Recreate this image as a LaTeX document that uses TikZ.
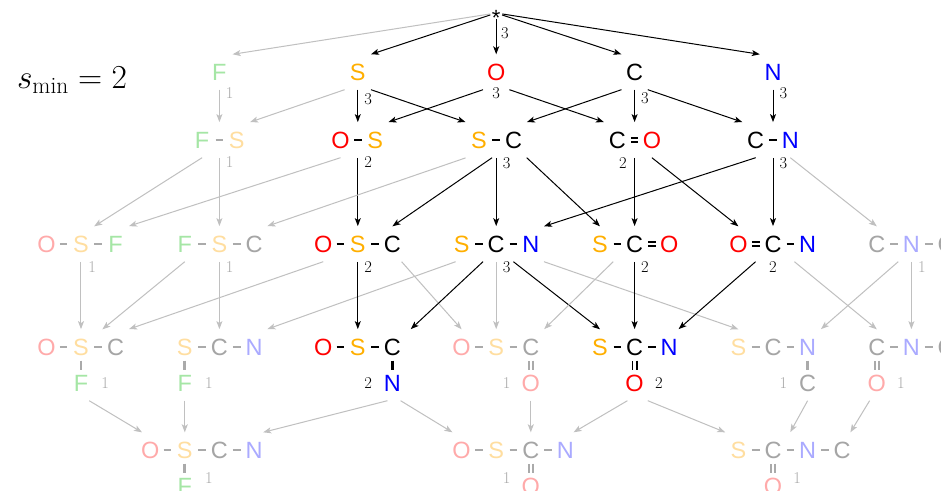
\RequirePackage{fix-cm}
\documentclass[tikz,border=0pt]{standalone}
\usepackage{fontspec}
\newfontfamily\af{Liberation Sans}
\usetikzlibrary{fit,arrows.meta}
\definecolor{cO}{RGB}{255,0,0}
\definecolor{cS}{RGB}{255,175,0}
\definecolor{cN}{RGB}{0,0,255}
\definecolor{fO}{RGB}{255,170,170}
\definecolor{fS}{RGB}{255,222,160}
\definecolor{fN}{RGB}{170,170,255}
\definecolor{fC}{RGB}{165,165,165}
\definecolor{fF}{RGB}{165,230,165}
\definecolor{bG}{RGB}{170,170,170}
\definecolor{eG}{RGB}{192,192,192}
\tikzset{
  atom/.style={inner sep=0pt, minimum width=26pt, minimum height=35pt,
    text height=16.5pt, text depth=0pt, font=\af\fontsize{23.5}{23.5}\selectfont},
  sbond/.style={line width=2.7pt, shorten <=13.5pt, shorten >=13.5pt},
  dbond/.style={line width=1.8pt, double=white, double distance=2.6pt,
    shorten <=13.5pt, shorten >=13.5pt},
  lbl/.style={inner sep=0pt, font=\fontsize{16.5}{16.5}\selectfont},
  mol/.style={inner sep=0pt},
  ea/.style={draw=black, line width=1pt, -{Stealth[length=8pt,width=6pt,inset=2pt]}},
  eg/.style={draw=eG, line width=1pt, -{Stealth[length=8pt,width=6pt,inset=2pt]}},
}
\newcommand\At[4]{\node[atom,text=#4] (#1) at (#2) {#3};}
\newcommand\Sb[3]{\draw[sbond,draw=#1] (#2.center) -- (#3.center);}
\newcommand\Db[3]{\draw[dbond,draw=#1] (#2.center) -- (#3.center);}
\newcommand\Lb[4]{\node[lbl,text=#4] (#1) at (#2) {#3};}
\begin{document}
\begin{tikzpicture}[x=34.6pt, y=-1pt]
\useasboundingbox[fill=white] (-2.341,0) rectangle (24.8555,490);

\node[anchor=base] (smin) at (-0.26,88) {\fontsize{33.5}{36}\selectfont$s_{\min}=2$};

% row 0
\node[circle,inner sep=0pt,minimum size=12pt,text height=0pt,text depth=0pt] (star) at (12,13) {\af\fontsize{22}{22}\selectfont\raisebox{-12.4pt}{*}};
\Lb{l0}{12.25,33}{3}{black}

% row 1
\At{F1}{4,72}{F}{fF}
\At{S1}{8,72}{S}{cS}
\At{O1}{12,72}{O}{cO}
\At{C1}{16,72}{C}{black}
\At{N1}{20,72}{N}{cN}
\Lb{lF1}{4.3,93}{1}{bG}
\Lb{lS1}{8.3,99}{3}{black}
\Lb{lO1}{12,93}{3}{black}
\Lb{lC1}{16.3,98}{3}{black}
\Lb{lN1}{20.3,93}{3}{black}

% row 2
\At{a2F}{3.5,140}{F}{fF}\At{a2S}{4.5,140}{S}{fS}\Sb{bG}{a2F}{a2S}
\node[mol,fit=(a2F)(a2S)] (mFS) {};
\At{b2O}{7.5,140}{O}{cO}\At{b2S}{8.5,140}{S}{cS}\Sb{black}{b2O}{b2S}
\node[mol,fit=(b2O)(b2S)] (mOS) {};
\At{c2S}{11.5,140}{S}{cS}\At{c2C}{12.5,140}{C}{black}\Sb{black}{c2S}{c2C}
\node[mol,fit=(c2S)(c2C)] (mSC) {};
\At{d2C}{15.5,140}{C}{black}\At{d2O}{16.5,140}{O}{cO}\Db{black}{d2C}{d2O}
\node[mol,fit=(d2C)(d2O)] (mCO) {};
\At{e2C}{19.5,140}{C}{black}\At{e2N}{20.5,140}{N}{cN}\Sb{black}{e2C}{e2N}
\node[mol,fit=(e2C)(e2N)] (mCN) {};
\Lb{lFS}{4.3,162}{1}{bG}
\Lb{lOS}{8.3,162}{2}{black}
\Lb{lSC}{12.3,163}{3}{black}
\Lb{lCO}{15.66,163}{2}{black}
\Lb{lCN}{20.3,163}{3}{black}

% row 3
\At{a3O}{-1,244}{O}{fO}\At{a3S}{0,244}{S}{fS}\At{a3F}{1,244}{F}{fF}
\Sb{bG}{a3O}{a3S}\Sb{bG}{a3S}{a3F}
\node[mol,fit=(a3O)(a3F)] (mOSF) {};
\At{b3F}{3,244}{F}{fF}\At{b3S}{4,244}{S}{fS}\At{b3C}{5,244}{C}{fC}
\Sb{bG}{b3F}{b3S}\Sb{bG}{b3S}{b3C}
\node[mol,fit=(b3F)(b3C)] (mFSC) {};
\At{c3O}{7,244}{O}{cO}\At{c3S}{8,244}{S}{cS}\At{c3C}{9,244}{C}{black}
\Sb{black}{c3O}{c3S}\Sb{black}{c3S}{c3C}
\node[mol,fit=(c3O)(c3C)] (mOSC) {};
\At{d3S}{11,244}{S}{cS}\At{d3C}{12,244}{C}{black}\At{d3N}{13,244}{N}{cN}
\Sb{black}{d3S}{d3C}\Sb{black}{d3C}{d3N}
\node[mol,fit=(d3S)(d3N)] (mSCN) {};
\At{e3S}{15,244}{S}{cS}\At{e3C}{16,244}{C}{black}\At{e3O}{17,244}{O}{cO}
\Sb{black}{e3S}{e3C}\Db{black}{e3C}{e3O}
\node[mol,fit=(e3S)(e3O)] (mSCO) {};
\At{f3O}{19,244}{O}{cO}\At{f3C}{20,244}{C}{black}\At{f3N}{21,244}{N}{cN}
\Db{black}{f3O}{f3C}\Sb{black}{f3C}{f3N}
\node[mol,fit=(f3O)(f3N)] (mOCN) {};
\At{g3C}{23,244}{C}{fC}\At{g3N}{24,244}{N}{fN}\At{g3C2}{25,244}{C}{fC}
\Sb{bG}{g3C}{g3N}\Sb{bG}{g3N}{g3C2}
\node[mol,fit=(g3C)(g3C2)] (mCNC) {};
\Lb{lOSF}{0.32,267}{1}{bG}
\Lb{lFSC}{4.3,267}{1}{bG}
\Lb{lOSC}{8.3,267}{2}{black}
\Lb{lSCN}{12.3,267}{3}{black}
\Lb{lSCO}{16.3,267}{2}{black}
\Lb{lOCN}{20,267}{2}{black}
\Lb{lCNC}{24.3,267}{1}{bG}

% row 4
\At{a4O}{-1,347}{O}{fO}\At{a4S}{0,347}{S}{fS}\At{a4C}{1,347}{C}{fC}\At{a4X}{0,383}{F}{fF}
\Sb{bG}{a4O}{a4S}\Sb{bG}{a4S}{a4C}\Sb{bG}{a4S}{a4X}
\node[mol,fit=(a4O)(a4C)] (m4a) {};
\At{b4S}{3,347}{S}{fS}\At{b4C}{4,347}{C}{fC}\At{b4N}{5,347}{N}{fN}\At{b4X}{3,383}{F}{fF}
\Sb{bG}{b4S}{b4C}\Sb{bG}{b4C}{b4N}\Sb{bG}{b4S}{b4X}
\node[mol,fit=(b4S)(b4N)] (m4b) {};
\At{c4O}{7,347}{O}{cO}\At{c4S}{8,347}{S}{cS}\At{c4C}{9,347}{C}{black}\At{c4X}{9,383}{N}{cN}
\Sb{black}{c4O}{c4S}\Sb{black}{c4S}{c4C}\Sb{black}{c4C}{c4X}
\node[mol,fit=(c4O)(c4C)] (m4c) {};
\At{d4O}{11,347}{O}{fO}\At{d4S}{12,347}{S}{fS}\At{d4C}{13,347}{C}{fC}\At{d4X}{13,383}{O}{fO}
\Sb{bG}{d4O}{d4S}\Sb{bG}{d4S}{d4C}\Db{bG}{d4C}{d4X}
\node[mol,fit=(d4O)(d4C)] (m4d) {};
\At{e4S}{15,347}{S}{cS}\At{e4C}{16,347}{C}{black}\At{e4N}{17,347}{N}{cN}\At{e4X}{16,383}{O}{cO}
\Sb{black}{e4S}{e4C}\Sb{black}{e4C}{e4N}\Db{black}{e4C}{e4X}
\node[mol,fit=(e4S)(e4N)] (m4e) {};
\At{f4S}{19,347}{S}{fS}\At{f4C}{20,347}{C}{fC}\At{f4N}{21,347}{N}{fN}\At{f4X}{21,383}{C}{fC}
\Sb{bG}{f4S}{f4C}\Sb{bG}{f4C}{f4N}\Sb{bG}{f4N}{f4X}
\node[mol,fit=(f4S)(f4N)] (m4f) {};
\At{g4C}{23,347}{C}{fC}\At{g4N}{24,347}{N}{fN}\At{g4C2}{25,347}{C}{fC}\At{g4X}{23,383}{O}{fO}
\Sb{bG}{g4C}{g4N}\Sb{bG}{g4N}{g4C2}\Db{bG}{g4C}{g4X}
\node[mol,fit=(g4C)(g4C2)] (m4g) {};
\Lb{la4}{0.7,383}{1}{bG}
\Lb{lb4}{3.7,383}{1}{bG}
\Lb{lc4}{8.3,383}{2}{black}
\Lb{ld4}{12.3,383}{1}{bG}
\Lb{le4}{16.7,383}{2}{black}
\Lb{lf4}{20.3,383}{1}{bG}
\Lb{lg4}{23.7,383}{1}{bG}

% row 5
\At{a5O}{2,450}{O}{fO}\At{a5S}{3,450}{S}{fS}\At{a5C}{4,450}{C}{fC}\At{a5N}{5,450}{N}{fN}\At{a5X}{3,486}{F}{fF}
\Sb{bG}{a5O}{a5S}\Sb{bG}{a5S}{a5C}\Sb{bG}{a5C}{a5N}\Sb{bG}{a5S}{a5X}
\node[mol,fit=(a5O)(a5N)] (m5a) {};
\At{b5O}{11,450}{O}{fO}\At{b5S}{12,450}{S}{fS}\At{b5C}{13,450}{C}{fC}\At{b5N}{14,450}{N}{fN}\At{b5X}{13,486}{O}{fO}
\Sb{bG}{b5O}{b5S}\Sb{bG}{b5S}{b5C}\Sb{bG}{b5C}{b5N}\Db{bG}{b5C}{b5X}
\node[mol,fit=(b5O)(b5N)] (m5b) {};
\At{c5S}{19,450}{S}{fS}\At{c5C}{20,450}{C}{fC}\At{c5N}{21,450}{N}{fN}\At{c5C2}{22,450}{C}{fC}\At{c5X}{20,486}{O}{fO}
\Sb{bG}{c5S}{c5C}\Sb{bG}{c5C}{c5N}\Sb{bG}{c5N}{c5C2}\Db{bG}{c5C}{c5X}
\node[mol,fit=(c5S)(c5C2)] (m5c) {};
\Lb{la5}{3.7,478}{1}{bG}
\Lb{lb5}{12.3,478}{1}{bG}
\Lb{lc5}{20.7,478}{1}{bG}

% edges row 0 -> 1
\draw[eg] (star) -- (F1.north east);
\draw[ea] (star) -- (S1.north east);
\draw[ea] (star) -- (O1.north);
\draw[ea] (star) -- (C1.north west);
\draw[ea] (star) -- (N1.north west);

% row 1 -> 2
\draw[eg] (F1.south) -- (mFS.north);
\draw[eg] (S1.south west) -- (mFS.north east);
\draw[ea] (S1.south) -- (mOS.north);
\draw[ea] (S1.south east) -- (mSC.north west);
\draw[ea] (O1.south west) -- (mOS.north east);
\draw[ea] (O1.south east) -- (mCO.north west);
\draw[ea] (C1.south west) -- (mSC.north east);
\draw[ea] (C1.south) -- (mCO.north);
\draw[ea] (C1.south east) -- (mCN.north west);
\draw[ea] (N1.south) -- (mCN.north);

% row 2 -> 3
\draw[eg] (a2F.south) -- (a3S.north east);
\draw[eg] (mFS.south) -- (mFSC.north);
\draw[eg] (b2O.south) -- (mOSF.north east);
\draw[ea] (mOS.south) -- (mOSC.north);
\draw[eg] (mSC.south west) -- (mFSC.north east);
\draw[ea] (c2S.south east) -- (c3C.north);
\draw[ea] (mSC.south) -- (mSCN.north);
\draw[ea] (c2C.south east) -- (e3S.north);
\draw[ea] (mCO.south) -- (mSCO.north);
\draw[ea] (d2O.south) -- (f3O.north);
\draw[ea] (e2C.south) -- (d3N.north east);
\draw[ea] (mCN.south) -- (mOCN.north);
\draw[eg] (e2N.south) -- (g3C.north);

% row 3 -> 4
\draw[eg] (mOSF.south) -- (m4a.north);
\draw[eg] (b3F.south) -- (a4C.north west);
\draw[eg] (c3O.south) -- (m4a.north east);
\draw[eg] (mFSC.south) -- (m4b.north);
\draw[eg] ([xshift=-6pt]d3S.south) -- (m4b.north east);
\draw[ea] (mOSC.south) -- (m4c.north);
\draw[eg] ([xshift=-4pt]c3C.south east) -- (d4O.north);
\draw[ea] (d3C.south west) -- ([xshift=5pt]m4c.north east);
\draw[eg] (mSCN.south) -- (m4d.north);
\draw[ea] ([xshift=4pt]d3C.south east) -- (e4S.north);
\draw[eg] (d3N.south east) -- (f4S.north);
\draw[eg] (e3S.south east) -- (m4d.north east);
\draw[ea] (mSCO.south) -- (m4e.north);
\draw[ea] ([xshift=4pt]f3O.south east) -- ([xshift=-4pt]m4e.north east);
\draw[eg] (f3N.south west) -- (g4C.north);
\draw[eg] (g3N.south west) -- (m4f.north east);
\draw[eg] (mCNC.south) -- (m4g.north);

% row 4 -> 5
\draw[eg] ([xshift=-5pt]a4X.south east) -- ([xshift=5pt]a5O.north west);
\draw[eg] (b4X.south) -- (a5S.north);
\draw[eg] ([xshift=-5pt]c4X.south) -- ([xshift=-4pt]a5N.north east);
\draw[eg] ([xshift=-5pt]c4X.south east) -- ([xshift=4pt]b5O.north west);
\draw[eg] (d4X.south) -- (b5C.north);
\draw[eg] ([xshift=6pt]e4X.south west) -- ([xshift=-5pt]b5N.north east);
\draw[eg] (e4X.south east) -- (c5S.north west);
\draw[eg] (f4X.south) -- (m5c.north);
\draw[eg] ([xshift=6pt]g4X.south west) -- ([xshift=-5pt]c5C2.north east);
\end{tikzpicture}
\end{document}
